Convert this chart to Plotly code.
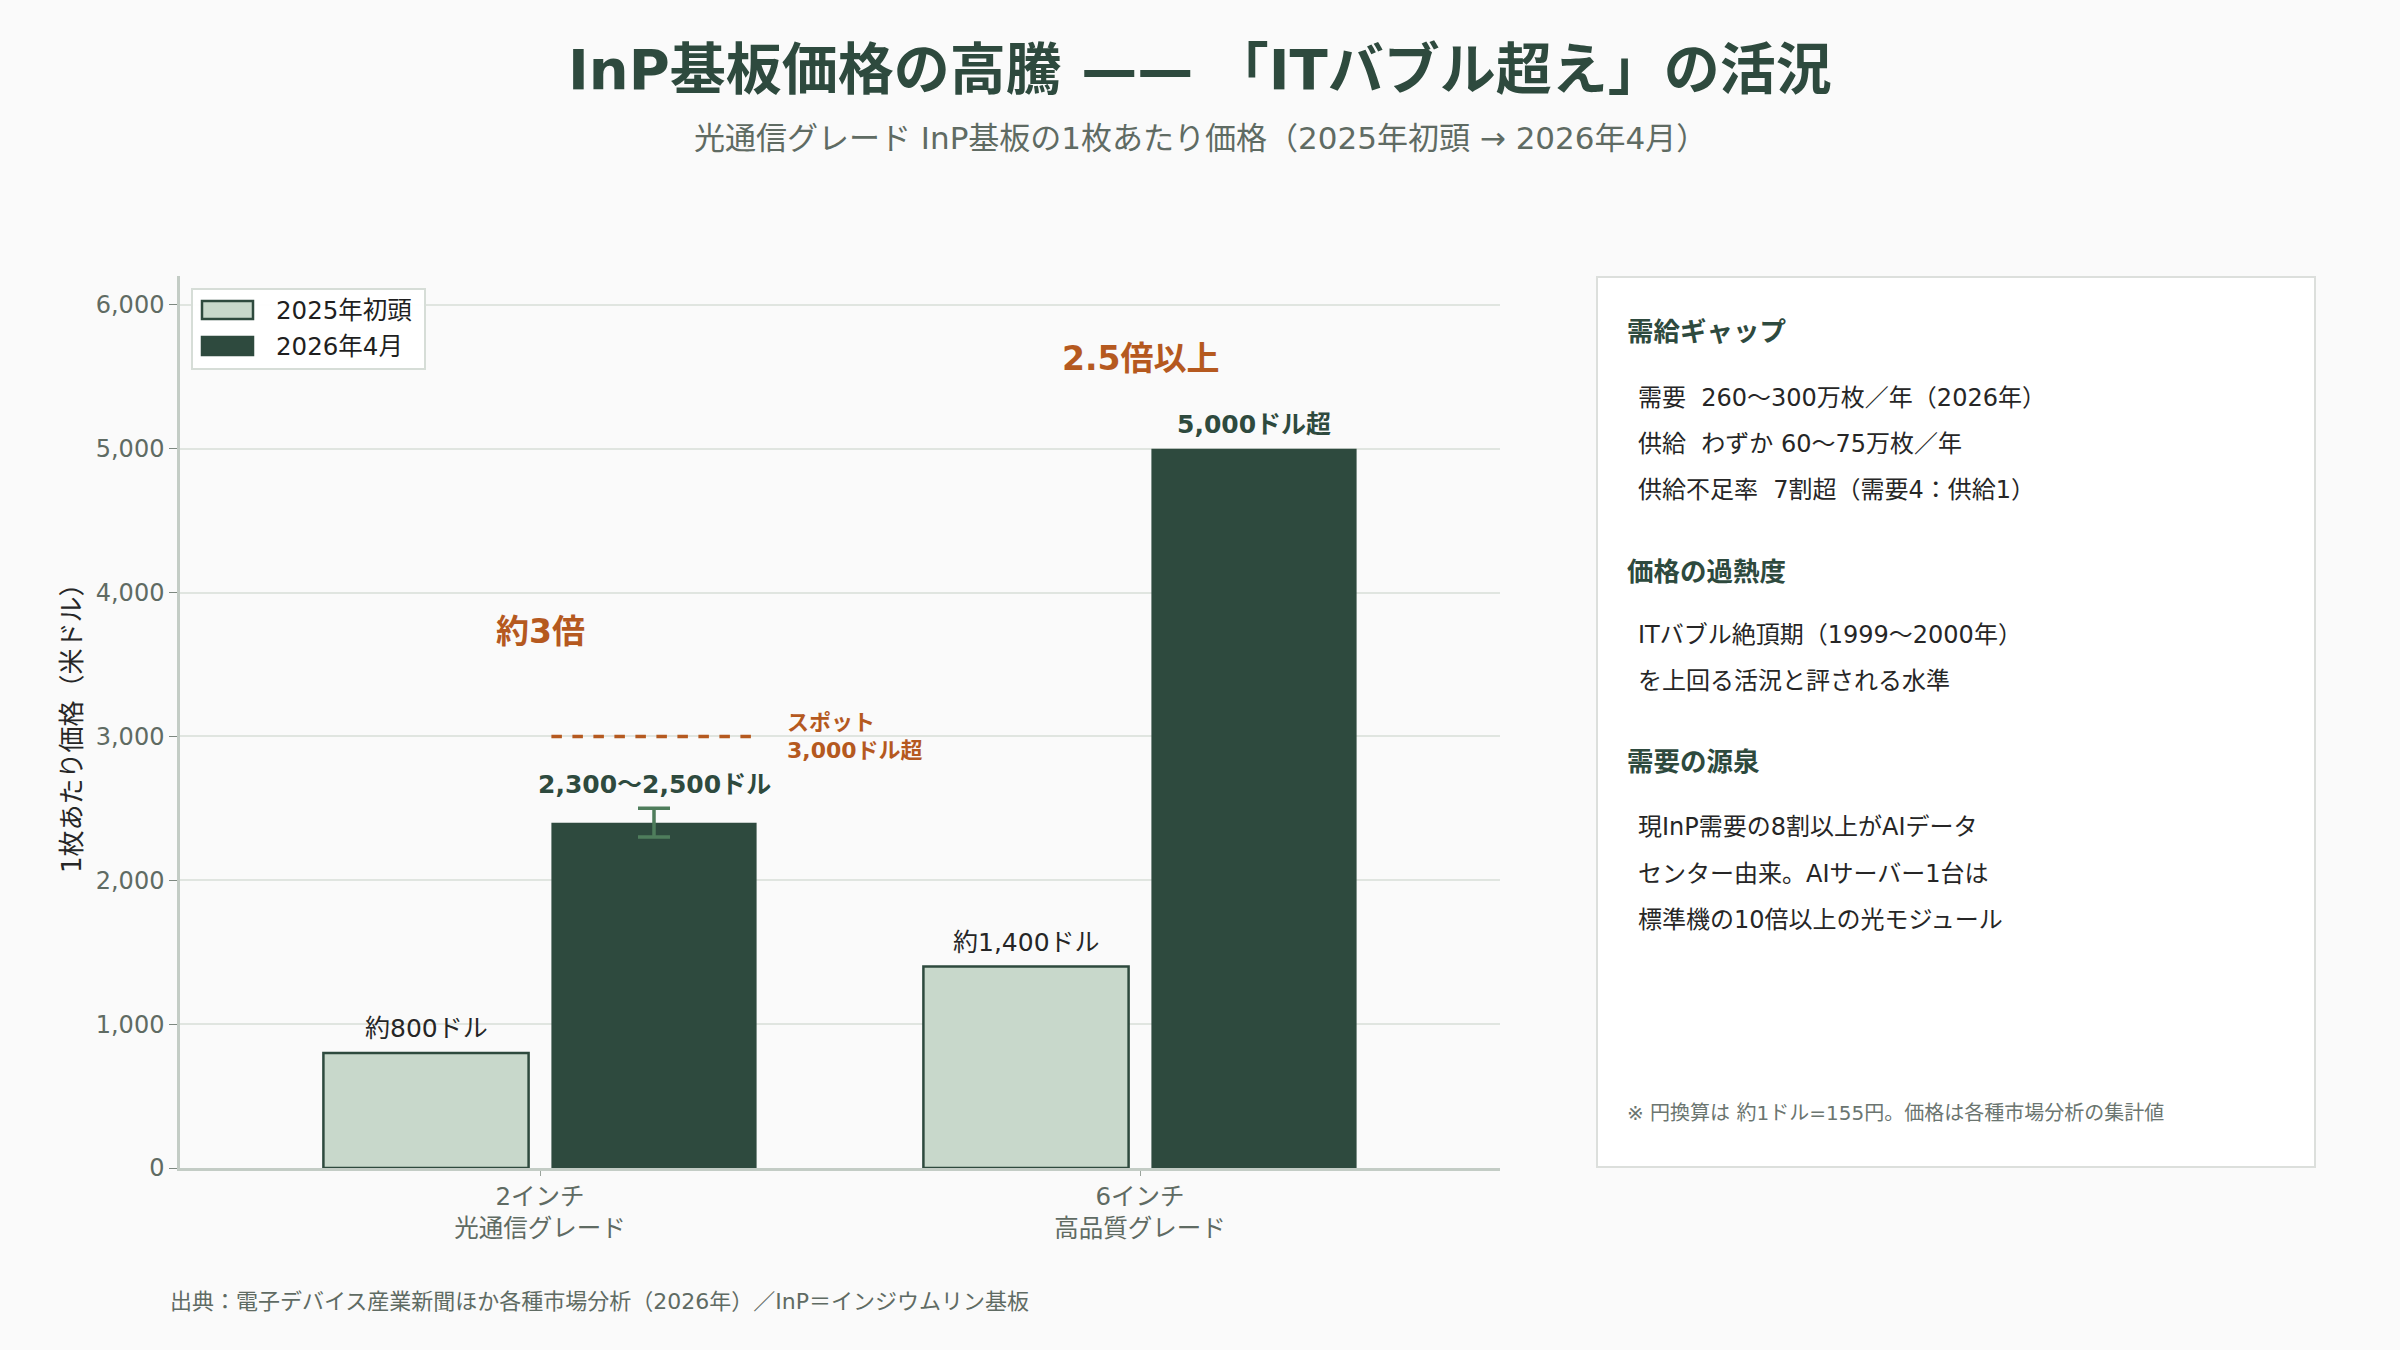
import plotly.graph_objects as go

# ---- data ----
categories = ["2インチ<br>光通信グレード", "6インチ<br>高品質グレード"]
series_names = ["2025年初頭", "2026年4月"]
price_2025 = [800, 1400]
price_2026 = [2400, 5000]
err_2026_index = 0
err_2026_size = 100
labels_2025 = ["約800ドル", "約1,400ドル"]
labels_2026 = ["2,300〜2,500ドル", "5,000ドル超"]
label_base_2026 = [2500, 5000]
spot_price = 3000
spot_lines = ["スポット", "3,000ドル超"]
ratio_labels = ["約3倍", "2.5倍以上"]
ratio_label_y = [3730, 5630]
y_ticks = [0, 1000, 2000, 3000, 4000, 5000, 6000]

panel_items = [
    ("h", "需給ギャップ"),
    ("b", "需要  260〜300万枚／年（2026年）"),
    ("b", "供給  わずか 60〜75万枚／年"),
    ("b", "供給不足率  7割超（需要4：供給1）"),
    ("h", "価格の過熱度"),
    ("b", "ITバブル絶頂期（1999〜2000年）"),
    ("b", "を上回る活況と評される水準"),
    ("h", "需要の源泉"),
    ("b", "現InP需要の8割以上がAIデータ"),
    ("b", "センター由来。AIサーバー1台は"),
    ("b", "標準機の10倍以上の光モジュール"),
]
panel_y_px = [331, 398, 444, 490, 571, 635, 681, 761, 827, 874, 920]
panel_note = "※ 円換算は 約1ドル=155円。価格は各種市場分析の集計値"

title = "InP基板価格の高騰 —— 「ITバブル超え」の活況"
subtitle = "光通信グレード InP基板の1枚あたり価格（2025年初頭 → 2026年4月）"
source = "出典：電子デバイス産業新聞ほか各種市場分析（2026年）／InP＝インジウムリン基板"
y_title = "1枚あたり価格（米ドル）"

# ---- style ----
FONT = "DejaVu Sans, Noto Sans CJK JP, sans-serif"
DARK = "#2e4a3e"
LIGHT = "#c8d8cb"
ORANGE = "#b5591f"
GRAY = "#5f6b63"
BG = "#fafafa"
TXT = "#262626"

L, R, T, B = 180, 900, 276, 182
W, H = 2400, 1350
PW, PH = W - L - R, H - T - B


def px_x(x):
    return (x - L) / PW


def px_y(y):
    return (H - B - y) / PH


BARGAP, GROUPGAP = 0.24, 0.1
slot = (1 - BARGAP) / 2
off = slot / 2
half_w = slot * (1 - GROUPGAP) / 2

idx = list(range(len(categories)))

fig = go.Figure()
fig.add_trace(go.Bar(
    x=idx, y=price_2025, name=series_names[0], showlegend=False,
    marker=dict(color=LIGHT, line=dict(color=DARK, width=2.5)),
))
fig.add_trace(go.Bar(
    x=idx, y=price_2026, name=series_names[1], showlegend=False,
    marker=dict(color=DARK, line=dict(color=DARK, width=0)),
))
# error bar (range 2,300-2,500) only on first dark bar
fig.add_trace(go.Scatter(
    x=[idx[err_2026_index] + off], y=[price_2026[err_2026_index]],
    mode="markers", marker=dict(size=1, opacity=0), showlegend=False,
    hoverinfo="skip",
    error_y=dict(type="data", array=[err_2026_size], symmetric=True,
                 color="#4f7d5c", thickness=3.5, width=16),
))

# value labels
for i in idx:
    fig.add_annotation(x=i - off, y=price_2025[i], text=labels_2025[i],
                       showarrow=False, yshift=24, xanchor="center", yanchor="middle",
                       font=dict(family=FONT, size=25, color=TXT))
    fig.add_annotation(x=i + off, y=label_base_2026[i], text="<b>" + labels_2026[i] + "</b>",
                       showarrow=False, yshift=24, xanchor="center", yanchor="middle",
                       font=dict(family=FONT, size=25, color=DARK))
    fig.add_annotation(x=i, y=ratio_label_y[i], text="<b>" + ratio_labels[i] + "</b>",
                       showarrow=False, xanchor="center", yanchor="middle",
                       font=dict(family=FONT, size=33, color=ORANGE))

# spot dashed line over dark bar of first category
fig.add_shape(type="line", xref="x", yref="y",
              x0=idx[0] + off - half_w, x1=idx[0] + off + half_w,
              y0=spot_price, y1=spot_price,
              line=dict(color=ORANGE, width=3.5, dash="dash"))
for line_txt, ys in zip(spot_lines, [14, -14]):
    fig.add_annotation(x=idx[0] + off + half_w, y=spot_price, xshift=28, yshift=ys,
                       text="<b>" + line_txt + "</b>", showarrow=False,
                       xanchor="left", yanchor="middle",
                       font=dict(family=FONT, size=22, color=ORANGE))

# custom legend
fig.add_shape(type="rect", xref="paper", yref="paper",
              x0=px_x(192), x1=px_x(425), y0=px_y(369), y1=px_y(289),
              fillcolor="rgba(255,255,255,0.95)", line=dict(color="#d6ddd7", width=2))
legend_fill = [LIGHT, DARK]
legend_y = [310, 346]
for name, fill, ly in zip(series_names, legend_fill, legend_y):
    fig.add_shape(type="rect", xref="paper", yref="paper",
                  x0=px_x(202), x1=px_x(253), y0=px_y(ly + 9), y1=px_y(ly - 9),
                  fillcolor=fill, line=dict(color=DARK, width=2.5))
    fig.add_annotation(xref="paper", yref="paper", x=px_x(274), y=px_y(ly),
                       text=name, showarrow=False, xanchor="left", yanchor="middle",
                       font=dict(family=FONT, size=24.5, color="#1f1f1f"))

# side panel
fig.add_shape(type="rect", xref="paper", yref="paper", layer="below",
              x0=px_x(1597), x1=px_x(2315), y0=px_y(1167), y1=px_y(277),
              fillcolor="white", line=dict(color="#dcdfdc", width=2))
for (kind, txt), ypx in zip(panel_items, panel_y_px):
    if kind == "h":
        fig.add_annotation(xref="paper", yref="paper", x=px_x(1625), y=px_y(ypx),
                           text="<b>" + txt + "</b>", showarrow=False,
                           xanchor="left", yanchor="middle",
                           font=dict(family=FONT, size=26.5, color=DARK))
    else:
        fig.add_annotation(xref="paper", yref="paper", x=px_x(1636), y=px_y(ypx),
                           text=txt, showarrow=False, xanchor="left", yanchor="middle",
                           font=dict(family=FONT, size=24, color=TXT))
fig.add_annotation(xref="paper", yref="paper", x=px_x(1625), y=px_y(1113),
                   text=panel_note, showarrow=False, xanchor="left", yanchor="middle",
                   font=dict(family=FONT, size=20, color="#6b7570"))

# titles
fig.add_annotation(xref="paper", yref="paper", x=px_x(1200), y=px_y(69),
                   text="<b>" + title + "</b>", showarrow=False,
                   xanchor="center", yanchor="middle",
                   font=dict(family=FONT, size=56, color=DARK))
fig.add_annotation(xref="paper", yref="paper", x=px_x(1200), y=px_y(138),
                   text=subtitle, showarrow=False, xanchor="center", yanchor="middle",
                   font=dict(family=FONT, size=31, color=GRAY))
fig.add_annotation(xref="paper", yref="paper", x=px_x(168), y=px_y(1301),
                   text=source, showarrow=False, xanchor="left", yanchor="middle",
                   font=dict(family=FONT, size=22, color=GRAY))
fig.add_annotation(xref="paper", yref="paper", x=px_x(72), y=0.5,
                   text=y_title, showarrow=False, textangle=-90,
                   xanchor="center", yanchor="middle",
                   font=dict(family=FONT, size=26, color=TXT))

fig.update_layout(
    width=W, height=H,
    margin=dict(l=L, r=R, t=T, b=B, pad=0),
    paper_bgcolor=BG, plot_bgcolor=BG,
    barmode="group", bargap=BARGAP, bargroupgap=GROUPGAP,
    font=dict(family=FONT, size=22, color=GRAY),
    showlegend=False,
    xaxis=dict(range=[-0.6, 1.6], tickvals=idx, ticktext=categories,
               showgrid=False, showline=True,
               linecolor="#c3ccc5", linewidth=2.5, ticks="outside",
               ticklen=5, tickcolor="#9aa39c",
               tickfont=dict(family=FONT, size=24.5, color=GRAY), zeroline=False),
    yaxis=dict(range=[0, 6200], tickvals=y_ticks, tickformat=",d",
               showgrid=True, gridcolor="#e0e5e0", gridwidth=1.5,
               showline=True, linecolor="#c3ccc5", linewidth=2.5,
               ticks="outside", ticklen=8, tickcolor="#7d8880",
               tickfont=dict(family=FONT, size=24, color=GRAY),
               zeroline=False),
)

fig.write_html("out.html")
